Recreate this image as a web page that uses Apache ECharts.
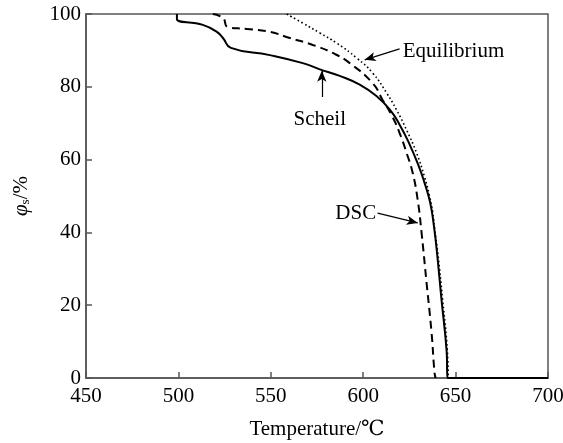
<!DOCTYPE html>
<html>
<head>
<meta charset="utf-8">
<script src="https://cdn.jsdelivr.net/npm/echarts@6/dist/echarts.min.js"></script>
<style>
  html, body { margin: 0; padding: 0; background: #fff; }
  #chart { width: 563px; height: 443px; }
</style>
</head>
<body>
<div id="chart"></div>
<script>
// temperature (℃) and solid fraction (%)
const scheilT   = [499.2, 499.2, 513.2, 520.8, 524.1, 528.4, 549.5, 567.3, 576.5, 587.3, 598.1, 607.3, 614.3, 619.7, 625.1, 630.5, 633.2, 635.4, 637.0, 638.1, 639.7, 642.4, 645.1, 645.7, 700];
const scheilPhi = [100, 98.6, 97.0, 95.1, 93.4, 90.7, 88.7, 86.5, 84.8, 83.0, 80.6, 77.4, 73.8, 69.6, 64.2, 57.6, 53.6, 49.9, 46.2, 42.4, 35.6, 21.4, 7.7, 0, 0];

const dscT   = [518.6, 524.1, 526.8, 537.0, 549.5, 560.3, 572.7, 583.5, 592.7, 605.1, 610.5, 615.9, 619.7, 623.5, 626.8, 629.5, 631.6, 634.3, 637.0, 638.6, 639.2];
const dscPhi = [100, 98.9, 96.4, 95.9, 95.1, 93.4, 91.5, 89.3, 86.5, 81.0, 76.4, 71.7, 67.3, 61.8, 56.3, 48.9, 39.8, 26.1, 12.4, 1.4, 0];

const eqT   = [558.6, 567.3, 576.5, 585.7, 596.5, 605.1, 612.7, 618.1, 623.5, 628.9, 633.2, 635.9, 637.6, 638.6, 640.3, 643.0, 645.5, 646.0];
const eqPhi = [100, 97.5, 94.8, 92.0, 87.9, 83.8, 78.3, 73.6, 68.1, 61.8, 55.2, 50.0, 45.6, 41.2, 34.6, 21.4, 7.7, 0];

const xTicks = [450, 500, 550, 600, 650, 700];
const yTicks = [0, 20, 40, 60, 80, 100];

const font = '"Liberation Serif", "DejaVu Serif", serif';
const zip = (a, b) => a.map((v, i) => [v, b[i]]);

// annotation arrows: [tail, head] in data coordinates
const arrow = (from, to) => [
  { coord: from, symbol: 'none' },
  { coord: to, symbol: 'arrow', symbolSize: [7, 11] }
];
const note = (text, coord, align) => ({
  coord: coord,
  symbol: 'circle',
  symbolSize: 1,
  itemStyle: { color: 'rgba(0,0,0,0)' },
  label: { show: true, formatter: text, align: align, verticalAlign: 'middle',
           position: 'inside', color: '#000', fontSize: 21, fontFamily: font }
});

const chart = echarts.init(document.getElementById('chart'));
chart.setOption({
  animation: false,
  grid: { left: 86, right: 15, top: 14, bottom: 65, outerBoundsMode: 'none',
          show: true, borderColor: '#555', borderWidth: 1.5 },
  xAxis: {
    type: 'value', min: 450, max: 700, interval: 50,
    name: 'Temperature/℃', nameLocation: 'middle', nameGap: 41,
    nameTextStyle: { color: '#000', fontSize: 21, fontFamily: font },
    axisLine: { lineStyle: { color: '#555', width: 1.5 } },
    axisTick: { inside: true, length: 6, lineStyle: { color: '#555', width: 1.5 } },
    axisLabel: { color: '#000', fontSize: 21, fontFamily: font, margin: 8,
                 formatter: v => xTicks.includes(v) ? String(v) : '' },
    splitLine: { show: false }
  },
  yAxis: {
    type: 'value', min: 0, max: 100, interval: 20,
    name: '{i|φ}{s|s}{n|/%}', nameLocation: 'middle', nameGap: 54,
    nameTextStyle: {
      color: '#000', fontFamily: font,
      rich: {
        i: { fontSize: 21, fontStyle: 'italic', fontFamily: font, color: '#000' },
        s: { fontSize: 13, fontFamily: font, color: '#000', verticalAlign: 'bottom', padding: [8, 0, 0, 0] },
        n: { fontSize: 21, fontFamily: font, color: '#000' }
      }
    },
    axisLine: { lineStyle: { color: '#555', width: 1.5 } },
    axisTick: { inside: true, length: 6, lineStyle: { color: '#555', width: 1.5 } },
    axisLabel: { color: '#000', fontSize: 21, fontFamily: font, margin: 5,
                 formatter: v => yTicks.includes(v) ? String(v) : '' },
    splitLine: { show: false }
  },
  series: [
    {
      name: 'Scheil', type: 'line', data: zip(scheilT, scheilPhi), showSymbol: false, smooth: 0.5,
      lineStyle: { color: '#000', width: 2 },
      markLine: {
        silent: true, lineStyle: { color: '#000', width: 1.2, type: 'solid' }, label: { show: false },
        data: [arrow([577.6, 77.2], [577.6, 84.4]), arrow([619.7, 90.4], [600.8, 87.4]), arrow([607.8, 45.3], [629.5, 42.6])]
      },
      markPoint: {
        silent: true,
        data: [note('Scheil', [576.5, 70.9], 'center'), note('Equilibrium', [621.4, 89.6], 'left'), note('DSC', [607.0, 45.1], 'right')]
      }
    },
    {
      name: 'DSC', type: 'line', data: zip(dscT, dscPhi), showSymbol: false, smooth: 0.5,
      lineStyle: { color: '#000', width: 2, type: [8, 5] }
    },
    {
      name: 'Equilibrium', type: 'line', data: zip(eqT, eqPhi), showSymbol: false, smooth: 0.5,
      lineStyle: { color: '#000', width: 1.6, type: [1.6, 2.6] }
    }
  ]
});
</script>
</body>
</html>
